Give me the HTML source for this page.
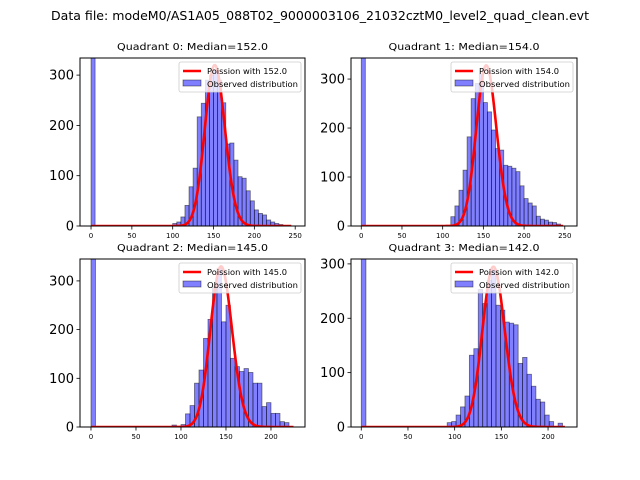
<!DOCTYPE html>
<html><head><meta charset="utf-8"><style>
body{margin:0;background:#fff;}
svg{display:block;font-family:"DejaVu Sans","Liberation Sans",sans-serif;}
</style></head><body>
<svg id="chart" width="640" height="480" viewBox="0 0 640 480" xmlns="http://www.w3.org/2000/svg">
<rect width="640" height="480" fill="#fff"/>
<text x="320" y="20" font-size="12" text-anchor="middle" textLength="538" lengthAdjust="spacingAndGlyphs">Data file: modeM0/AS1A05_088T02_9000003106_21032cztM0_level2_quad_clean.evt</text>
</svg>
<script>
// ---- data ----
const medians = [152.0, 154.0, 145.0, 142.0];
const zeroCounts = [1000, 1000, 1000, 1000];
const binStarts = [100, 75, 90, 92];
const binWidths = [5, 5, 5, 4.75];
const q0Counts = [5,8,18,41,78,115,217,244,290,300,310,290,245,163,165,131,98,95,70,50,32,25,22,12,8,5,3,1,1];
const q1Counts = [1,0,0,0,1,1,1,19,41,73,114,182,260,291,310,252,233,196,158,155,124,122,118,111,82,56,47,41,20,14,12,8,7,4];
const q2Counts = [4,0,5,27,44,90,117,182,221,288,326,216,250,141,124,114,120,112,90,90,42,50,28,28,11,9];
const q3Counts = [8,10,22,37,57,132,144,253,227,270,290,224,215,193,191,188,117,128,97,75,51,46,22,10,0,7];
const poissonScale = [9890, 10200, 9960, 8810];
const poissonMax = [245, 248, 225, 218];
const xTicks = [[0,50,100,150,200,250],[0,50,100,150,200,250],[0,50,100,150,200],[0,50,100,150,200]];
const yTicks = [0,100,200,300];
// ---- layout ----
const counts = [q0Counts,q1Counts,q2Counts,q3Counts];
const panels = [
 {l:80,r:305,t:58,b:226,xmin:-13.5,xmax:262,ymax:334},
 {l:351,r:577,t:58,b:226,xmin:-12.6,xmax:265,ymax:343},
 {l:80,r:305,t:259,b:427,xmin:-12.2,xmax:237.8,ymax:345},
 {l:351,r:577,t:259,b:427,xmin:-11,xmax:231,ymax:309}
];
const NS="http://www.w3.org/2000/svg";
const svg=document.getElementById('chart');
function mk(tag,attrs,parent){const e=document.createElementNS(NS,tag);for(const k in attrs)e.setAttribute(k,attrs[k]);(parent||svg).appendChild(e);return e;}
function lgamma(n){
  if(n<2) return 0;
  return n*Math.log(n)-n+0.5*Math.log(2*Math.PI*n)+1/(12*n)-1/(360*n*n*n);
}
panels.forEach((p,q)=>{
  const g=mk('g',{});
  
  
  const xs=v=>p.l+(v-p.xmin)/(p.xmax-p.xmin)*(p.r-p.l);
  const ys=v=>p.b-v/p.ymax*(p.b-p.t);
  const cid='clip'+q;
  const cp=mk('clipPath',{id:cid},g);mk('rect',{x:p.l,y:p.t,width:p.r-p.l,height:p.b-p.t},cp);
  const plot=mk('g',{'clip-path':'url(#'+cid+')'},g);
  const z=mk('rect',{x:xs(0),y:ys(zeroCounts[q]),width:xs(5)-xs(0),height:ys(0)-ys(zeroCounts[q]),fill:'rgba(0,0,255,0.5)',stroke:'rgba(0,0,0,0.5)','stroke-width':0.8},plot);
  
  
  counts[q].forEach((c,i)=>{
    if(c<=0) return;
    const x0=binStarts[q]+i*binWidths[q];
    const r=mk('rect',{x:xs(x0),y:ys(c),width:xs(x0+binWidths[q])-xs(x0),height:ys(0)-ys(c),fill:'rgba(0,0,255,0.5)',stroke:'rgba(0,0,0,0.5)','stroke-width':0.8},plot);
    
    
  });
  const lam=medians[q];let d='';
  for(let k=0;k<=poissonMax[q];k++){
    const pm=Math.exp(k*Math.log(lam)-lam-lgamma(k));
    d+=(k?'L':'M')+xs(k).toFixed(2)+','+ys(pm*poissonScale[q]).toFixed(2);
  }
  const pl=mk('path',{d:d,fill:'none',stroke:'#ff0000','stroke-width':2.6,'stroke-linejoin':'round'},plot);
  
  
  mk('rect',{x:p.l,y:p.t,width:p.r-p.l,height:p.b-p.t,fill:'none',stroke:'#000','stroke-width':1},g);
  xTicks[q].forEach(v=>{
    mk('line',{x1:xs(v),x2:xs(v),y1:p.b,y2:p.b+3.5,stroke:'#000','stroke-width':0.8},g);
    const t=mk('text',{x:xs(v),y:p.b+12,'font-size':7,'text-anchor':'middle'},g);t.textContent=v;
    
    
  });
  yTicks.forEach(v=>{
    if(v>p.ymax) return;
    mk('line',{x1:p.l-3.5,x2:p.l,y1:ys(v),y2:ys(v),stroke:'#000','stroke-width':0.8},g);
    const t=mk('text',{x:p.l-6,y:ys(v)+4.5,'font-size':13,'text-anchor':'end'},g);t.textContent=v;
    
    
  });
  const ti=mk('text',{x:(p.l+p.r)/2,y:p.t-8,'font-size':10,'text-anchor':'middle',textLength:151,lengthAdjust:'spacingAndGlyphs'},g);
  ti.textContent='Quadrant '+q+': Median='+medians[q].toFixed(1);
  
  
  const lg=mk('g',{},g);
  
  
  const lx=p.r-126,ly=p.t+4;
  mk('rect',{x:lx,y:ly,width:122,height:30,rx:2,fill:'rgba(255,255,255,0.8)',stroke:'#ccc','stroke-width':0.8},lg);
  mk('line',{x1:lx+4,x2:lx+22,y1:ly+9,y2:ly+9,stroke:'#ff0000','stroke-width':2.6},lg);
  const t1=mk('text',{x:lx+28,y:ly+12,'font-size':8,textLength:80,lengthAdjust:'spacingAndGlyphs'},lg);
  t1.textContent='Poission with '+medians[q].toFixed(1);
  
  
  mk('rect',{x:lx+4,y:ly+18,width:18,height:6,fill:'rgba(0,0,255,0.5)',stroke:'rgba(0,0,0,0.5)','stroke-width':0.8},lg);
  const t2=mk('text',{x:lx+28,y:ly+25,'font-size':8,textLength:91,lengthAdjust:'spacingAndGlyphs'},lg);
  t2.textContent='Observed distribution';
  
  
});
</script>
</body></html>
